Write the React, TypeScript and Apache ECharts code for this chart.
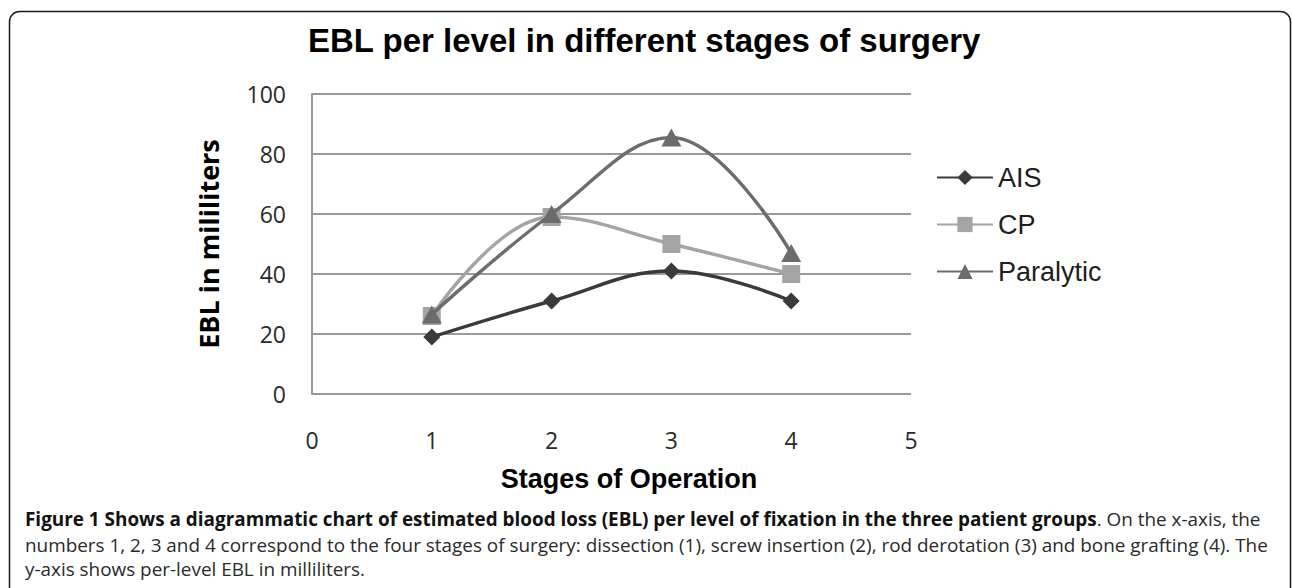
import React, { useEffect, useRef } from "react";
import * as echarts from "echarts";

// ---- data ----
const stages = [1, 2, 3, 4];
const seriesNames = ["AIS", "CP", "Paralytic"];
const aisValues = [19, 31, 41, 31];
const cpValues = [26, 59, 50, 40];
const paralyticValues = [26.5, 60, 85.5, 47];
const seriesColors = ["#3a3a3a", "#a4a4a4", "#6c6c6c"];
const seriesSymbols = ["diamond", "rect", "triangle"];
const seriesSymbolSizes: (number | number[])[] = [17, 18, [20, 18]];

const titleText = "EBL per level in different stages of surgery";
const xAxisTitle = "Stages of Operation";
const yAxisTitle = "EBL in mililiters";
const captionBold =
  "Figure 1 Shows a diagrammatic chart of estimated blood loss (EBL) per level of fixation in the three patient groups";
const captionLine1Rest = ". On the x-axis, the";
const captionLine2 =
  "numbers 1, 2, 3 and 4 correspond to the four stages of surgery: dissection (1), screw insertion (2), rod derotation (3) and bone grafting (4). The";
const captionLine3 = "y-axis shows per-level EBL in milliliters.";

const allValues = [aisValues, cpValues, paralyticValues];

export default function App() {
  const ref = useRef<HTMLDivElement>(null);
  useEffect(() => {
    if (!ref.current) return;
    const chart = echarts.init(ref.current, undefined, { renderer: "svg" });
    const tickFont = "'Open Sans', 'Noto Sans', sans-serif";
    const arial = "'Liberation Sans', Arial, sans-serif";
    const capSize = 18.9;
    chart.setOption({
      animation: false,
      backgroundColor: "#ffffff",
      title: {
        text: titleText,
        left: 308,
        top: 24,
        padding: 0,
        textStyle: { fontFamily: arial, fontSize: 33, fontWeight: "bold", color: "#000" },
      },
      legend: {
        orient: "vertical",
        left: 936,
        top: 164,
        padding: 0,
        itemWidth: 56,
        itemHeight: 19,
        itemGap: 20,
        textStyle: { fontFamily: arial, fontSize: 27, color: "#1e1e1e" },
        data: seriesNames,
      },
      grid: { left: 312, right: 381, top: 94, bottom: 194, containLabel: false },
      xAxis: {
        type: "value",
        min: 0,
        max: 5,
        interval: 1,
        name: xAxisTitle,
        nameLocation: "middle",
        nameGap: 71,
        nameTextStyle: {
          fontFamily: arial,
          fontSize: 27,
          fontWeight: "bold",
          color: "#000",
          padding: [0, 0, 0, 35],
        },
        axisLine: { show: false },
        axisTick: { show: false },
        splitLine: { show: false },
        axisLabel: { margin: 34, fontFamily: tickFont, fontSize: 23, color: "#2a2a2a" },
      },
      yAxis: {
        type: "value",
        min: 0,
        max: 100,
        interval: 20,
        name: yAxisTitle,
        nameLocation: "middle",
        nameGap: 90,
        nameTextStyle: { fontFamily: tickFont, fontSize: 27, fontWeight: "bold", color: "#000" },
        axisLine: { show: true, lineStyle: { color: "#9a9a9a", width: 2 } },
        axisTick: { show: false },
        splitLine: { show: true, lineStyle: { color: "#9a9a9a", width: 2 } },
        axisLabel: { margin: 26, fontFamily: tickFont, fontSize: 23, color: "#2a2a2a" },
      },
      series: seriesNames.map((name, si) => ({
        name,
        type: "line",
        smooth: 0.4,
        data: stages.map((s, i) => [s, allValues[si][i]]),
        symbol: seriesSymbols[si],
        symbolSize: seriesSymbolSizes[si],
        z: 2 + si,
        lineStyle: { color: seriesColors[si], width: 3.4 },
        itemStyle: { color: seriesColors[si] },
      })),
      graphic: [
        {
          type: "rect",
          silent: true,
          shape: { x: 9.5, y: 11.5, width: 1281, height: 700, r: 10 },
          style: { fill: "none", stroke: "#1a1a1a", lineWidth: 1.5 },
        },
        {
          type: "text",
          x: 25,
          y: 519,
          style: {
            text: "{b|" + captionBold + "}{r|" + captionLine1Rest + "}",
            verticalAlign: "middle",
            rich: {
              b: { fontFamily: tickFont, fontSize: capSize, fontWeight: "bold", fill: "#111" },
              r: { fontFamily: tickFont, fontSize: capSize, fill: "#2a2a2a" },
            },
          },
        },
        {
          type: "text",
          x: 25,
          y: 545,
          style: { text: captionLine2, fontFamily: tickFont, fontSize: capSize, fill: "#2a2a2a", verticalAlign: "middle" },
        },
        {
          type: "text",
          x: 25,
          y: 569,
          style: { text: captionLine3, fontFamily: tickFont, fontSize: capSize, fill: "#2a2a2a", verticalAlign: "middle" },
        },
      ],
    });
    return () => chart.dispose();
  }, []);
  return (
    <div
      ref={ref}
      style={{ position: "fixed", left: 0, top: 0, width: 1292, height: 588, background: "#fff" }}
    />
  );
}
